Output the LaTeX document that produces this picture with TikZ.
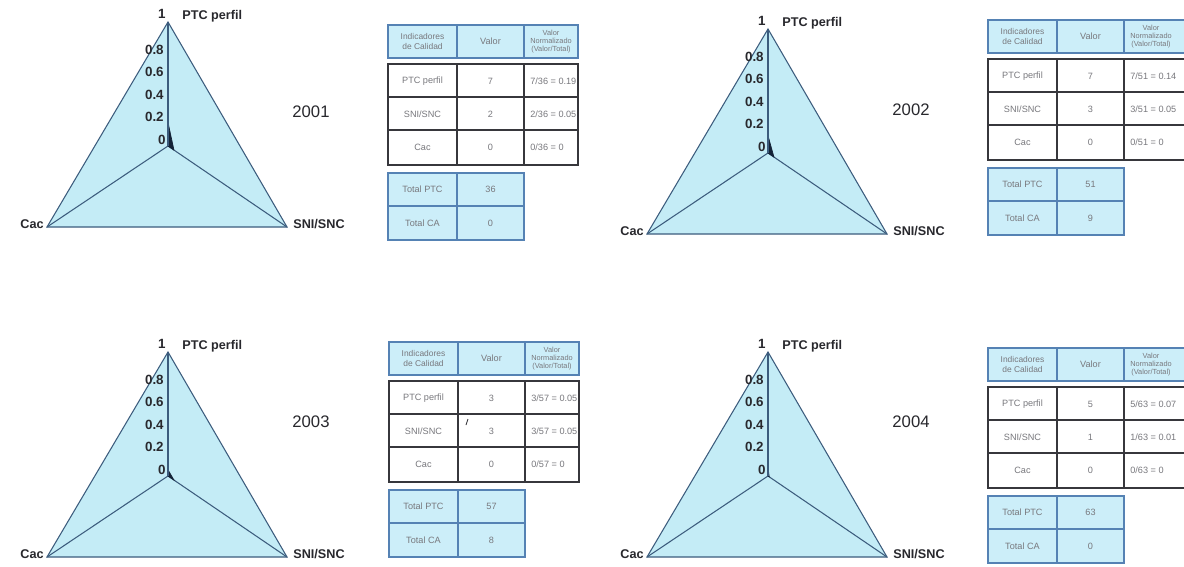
\documentclass[tikz,border=0pt]{standalone}
\usepackage{fontspec}
\setmainfont{Liberation Sans}
\usetikzlibrary{calc}
\definecolor{cyanfill}{RGB}{196,236,246}
\definecolor{hdrfill}{RGB}{204,238,249}
\definecolor{radline}{RGB}{60,92,125}
\definecolor{tblue}{RGB}{85,130,180}
\definecolor{tdark}{RGB}{55,55,60}
\definecolor{ttext}{RGB}{120,120,125}
\definecolor{lbltext}{RGB}{40,40,45}
\definecolor{datacol}{RGB}{20,35,55}
\tikzset{
 radarfill/.style={fill=cyanfill},
 radarline/.style={draw=radline, line width=0.6pt},
 axislab/.style={font=\fontsize{7.2}{8}\selectfont\bfseries, text=lbltext, inner sep=0pt},
 ticklab/.style={font=\fontsize{7.6}{8}\selectfont\bfseries, text=lbltext, inner sep=0pt, anchor=east},
 yearlab/.style={font=\fontsize{9.5}{10}\selectfont, text=lbltext, inner sep=0pt},
 hdrcell/.style={draw=tblue, fill=hdrfill, line width=0.9pt},
 bodybox/.style={draw=tdark, fill=white, line width=1pt},
 celltext/.style={font=\fontsize{5.2}{6}\selectfont, text=ttext, inner sep=0pt, align=center},
 hdrtext/.style={font=\fontsize{4.2}{4.7}\selectfont, text=ttext, inner sep=0pt, align=center},
 datafill/.style={fill=datacol, draw=datacol, line width=0.4pt},
}
\newcommand{\radarchart}[6]{%
 \begin{scope}[shift={(#2)}]
  \coordinate (#1c) at (168,146);
  \coordinate (#1t) at (168,22);
  \coordinate (#1l) at (47,227);
  \coordinate (#1r) at (287,227);
  \path[radarfill] (#1t) -- (#1r) -- (#1l) -- cycle;
  \draw[radarline] (#1c) -- (#1l) (#1c) -- (#1r);
  \fill[datafill] (#1c) -- ($(#1c)!#4!(#1t)$) -- ($(#1c)!#5!(#1r)$) -- cycle;
  \draw[radarline] (#1c) -- (#1t);
  \draw[radarline] (#1t) -- (#1r) -- (#1l) -- cycle;
  \node[ticklab] (#1k10) at (166,14) {1};
  \node[ticklab] (#1k8) at (164,50) {0.8};
  \node[ticklab] (#1k6) at (164,72) {0.6};
  \node[ticklab] (#1k4) at (164,95) {0.4};
  \node[ticklab] (#1k2) at (164,117) {0.2};
  \node[ticklab] (#1k0) at (166,140) {0};
  \node[axislab, anchor=west] (#1p) at (182,16) {PTC perfil};
  \node[axislab, anchor=east] (#1a) at (44,224) {Cac};
  \node[axislab, anchor=west] (#1s) at (293,224) {SNI/SNC};
  \node[yearlab] (#1y) at (311,#6) {#3};
 \end{scope}}
\newcommand{\thirdr}{190}
\newcommand{\qtable}[9]{%
 \begin{scope}[shift={(#2)}]
  \draw[hdrcell] (0,0) rectangle (69,33);
  \draw[hdrcell] (69,0) rectangle (136,33);
  \draw[hdrcell] (136,0) rectangle (\thirdr,33);
  \node[hdrtext, font=\fontsize{4.8}{5.4}\selectfont] (#1h1) at (34.5,16.5) {Indicadores\\de Calidad};
  \node[hdrtext, font=\fontsize{5.2}{6}\selectfont] (#1h2) at (102.5,16.5) {Valor};
  \node[hdrtext, anchor=center] (#1h3) at (163,16.5) {Valor\\Normalizado\\(Valor/Total)};
  \draw[bodybox] (0,39) rectangle (\thirdr,140);
  \draw[tdark, line width=1pt] (0,72) -- (\thirdr,72) (0,105) -- (\thirdr,105) (69,39) -- (69,140) (136,39) -- (136,140);
  \node[celltext] (#1r1a) at (34.5,56) {PTC perfil};
  \node[celltext] (#1r1b) at (102.5,56) {#3};
  \node[celltext, anchor=west] (#1r1c) at (142,56) {#4};
  \node[celltext] (#1r2a) at (34.5,89) {SNI/SNC};
  \node[celltext] (#1r2b) at (102.5,89) {#5};
  \node[celltext, anchor=west] (#1r2c) at (142,89) {#6};
  \node[celltext] (#1r3a) at (34.5,122) {Cac};
  \node[celltext] (#1r3b) at (102.5,122) {0};
  \node[celltext, anchor=west] (#1r3c) at (142,122) {#7};
  \draw[hdrcell] (0,148) rectangle (136,215);
  \draw[tblue, line width=0.9pt] (0,181) -- (136,181) (69,148) -- (69,215);
  \node[celltext] (#1t1a) at (34.5,164.5) {Total PTC};
  \node[celltext] (#1t1b) at (102.5,164.5) {#8};
  \node[celltext] (#1t2a) at (34.5,198) {Total CA};
  \node[celltext] (#1t2b) at (102.5,198) {#9};
 \end{scope}}
\begin{document}
\begin{tikzpicture}[x=0.02cm, y=-0.02cm]
\useasboundingbox (0,0) rectangle (1184,566);
\fill[white] (0,0) rectangle (1184,566);
\clip (0,0) rectangle (1184,566);
\radarchart{ra}{0,0}{2001}{0.19}{0.05}{112}
\radarchart{rb}{600,7}{2002}{0.14}{0.05}{103}
\radarchart{rc}{0,330}{2003}{0.05}{0.05}{92}
\radarchart{rd}{600,330}{2004}{0.07}{0.01}{92}
\renewcommand{\thirdr}{190}
\qtable{ta}{388,25}{7}{7/36 = 0.19}{2}{2/36 = 0.05}{0/36 = 0}{36}{0}
\qtable{tc}{389,342}{3}{3/57 = 0.05}{3}{3/57 = 0.05}{0/57 = 0}{57}{8}
\renewcommand{\thirdr}{210}
\qtable{tb}{988,20}{7}{7/51 = 0.14}{3}{3/51 = 0.05}{0/51 = 0}{51}{9}
\qtable{td}{988,348}{5}{5/63 = 0.07}{1}{1/63 = 0.01}{0/63 = 0}{63}{0}
\draw[tdark, line width=0.5pt] (468,419) -- (466,425);
\end{tikzpicture}
\end{document}
